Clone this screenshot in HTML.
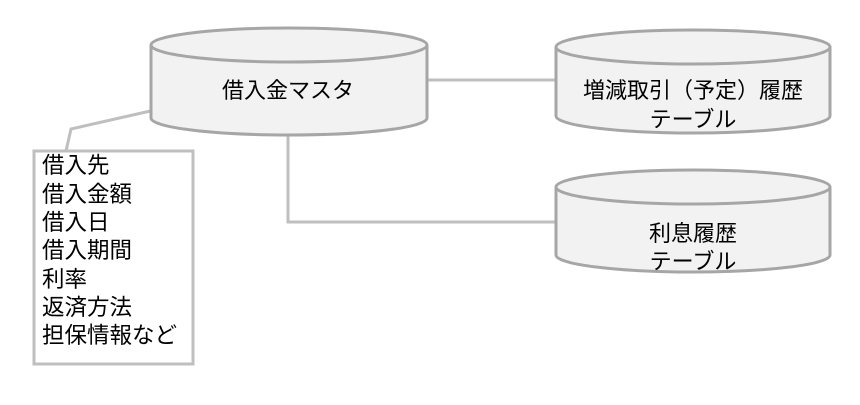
<!DOCTYPE html>
<html><head><meta charset="utf-8"><style>
body{margin:0;background:#fff;}
svg text{font-family:"Liberation Sans","Noto Sans CJK JP",sans-serif;fill:#000;}
</style></head><body>
<svg width="860" height="400" xmlns="http://www.w3.org/2000/svg">
<g stroke="#bfbfbf" stroke-width="3" fill="none">
<polyline points="427,80 555,80"/>
<polyline points="288,135 288,222 555,222"/>
<polyline points="168,107 71,129 66,151"/>
</g>
<g stroke="#a6a6a6" stroke-width="3" fill="#f2f2f2">
<path d="M151,45 L151,118 A138,17 0 0 0 427,118 L427,45"/>
<ellipse cx="289" cy="45" rx="138" ry="17"/>
<path d="M556,47 L556,116 A137,17 0 0 0 830,116 L830,47"/>
<ellipse cx="693" cy="47" rx="137" ry="17"/>
<path d="M556,187 L556,255 A137,17 0 0 0 830,255 L830,187"/>
<ellipse cx="693" cy="187" rx="137" ry="17"/>
</g>
<rect x="34" y="151" width="159" height="213" fill="#fff" stroke="#bfbfbf" stroke-width="3"/>
<g font-size="22">
<text x="288" y="98" text-anchor="middle">借入金マスタ</text>
<text x="693" y="98" text-anchor="middle">増減取引（予定）履歴</text>
<text x="693" y="127" text-anchor="middle">テーブル</text>
<text x="693" y="241" text-anchor="middle">利息履歴</text>
<text x="693" y="269" text-anchor="middle">テーブル</text>
</g>
<g font-size="22.5">
<text x="42" y="173">借入先</text>
<text x="42" y="202">借入金額</text>
<text x="42" y="230">借入日</text>
<text x="42" y="258">借入期間</text>
<text x="42" y="287">利率</text>
<text x="42" y="315">返済方法</text>
<text x="42" y="343">担保情報など</text>
</g>
</svg>
</body></html>
